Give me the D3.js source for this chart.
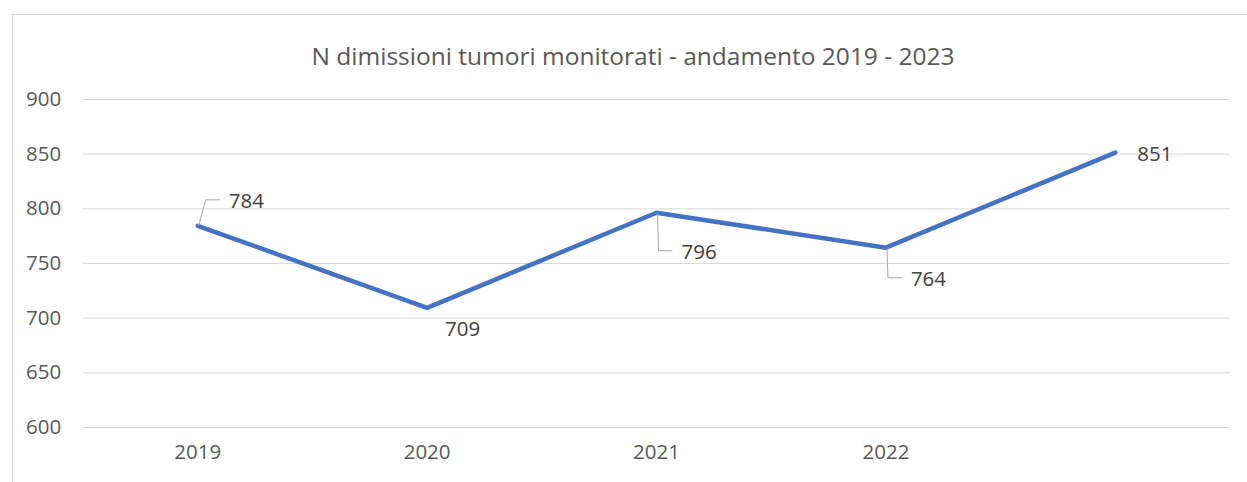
<!DOCTYPE html>
<html>
<head>
<meta charset="utf-8">
<script src="https://cdn.jsdelivr.net/npm/d3@7"></script>
<style>
    body { margin: 0; background: #ffffff; }
    svg { display: block; }
</style>
</head>
<body>
<script>
//
// DATA
const years = [ '2019', '2020', '2021', '2022', '2023' ];
const xTickLabels = [ '2019', '2020', '2021', '2022', '' ];
const values = [ 784, 709, 796, 764, 851 ];
const yTicks = [ 600, 650, 700, 750, 800, 850, 900 ];
const chartTitle = 'N dimissioni tumori monitorati - andamento 2019 - 2023';

//
// SIZE
const WIDTH = 1247;
const HEIGHT = 482;
const PLOT_LEFT = 83;
const PLOT_RIGHT = 1230;
const PLOT_TOP = 99;
const PLOT_BOTTOM = 427;
const TEXT_COLOR = '#595959';
const GRID_COLOR = '#d9d9d9';
const LINE_COLOR = '#4472c4';
const FONT = '"Open Sans", "Noto Sans", sans-serif';

// label placement, relative to the point: text offset and whether a leader line is drawn
const labelLayout = [
    { dx: 31, dy: -26, leader: true },
    { dx: 18, dy: 20, leader: false },
    { dx: 25, dy: 38, leader: true },
    { dx: 25, dy: 30, leader: true },
    { dx: 22, dy: 0, leader: false }
];

let svg = d3.select( 'body' )
    .append( 'svg' )
    .attr( 'width', WIDTH )
    .attr( 'height', HEIGHT );

// chart frame
svg.append( 'rect' )
    .attr( 'x', 12.5 )
    .attr( 'y', 14.5 )
    .attr( 'width', 1260 )
    .attr( 'height', 500 )
    .attr( 'fill', 'none' )
    .attr( 'stroke', GRID_COLOR );

let x = d3.scaleBand()
    .domain( years )
    .range( [ PLOT_LEFT, PLOT_RIGHT ] );

let y = d3.scaleLinear()
    .domain( [ 600, 900 ] )
    .range( [ PLOT_BOTTOM, PLOT_TOP ] );

function cx( i ) {
    return x( years[ i ] ) + x.bandwidth() / 2;
}

// title
svg.append( 'text' )
    .attr( 'x', 633 )
    .attr( 'y', 55 )
    .attr( 'text-anchor', 'middle' )
    .attr( 'dominant-baseline', 'central' )
    .attr( 'font-family', FONT )
    .attr( 'font-size', 24.5 )
    .attr( 'fill', TEXT_COLOR )
    .text( chartTitle );

// y axis with gridlines
let yAxis = svg.append( 'g' )
    .attr( 'transform', 'translate(' + PLOT_LEFT + ',0)' )
    .call( d3.axisLeft( y )
        .tickValues( yTicks )
        .tickSize( -( PLOT_RIGHT - PLOT_LEFT ) ) );
yAxis.select( '.domain' ).remove();
yAxis.selectAll( 'line' )
    .attr( 'stroke', GRID_COLOR );
yAxis.selectAll( 'text' )
    .attr( 'font-family', FONT )
    .attr( 'font-size', 20.5 )
    .attr( 'fill', TEXT_COLOR )
    .attr( 'text-anchor', 'start' )
    .attr( 'x', -PLOT_LEFT + 26 );

// x axis labels only
let xAxis = svg.append( 'g' )
    .attr( 'transform', 'translate(0,' + PLOT_BOTTOM + ')' )
    .call( d3.axisBottom( x )
        .tickSize( 0 )
        .tickPadding( 17 )
        .tickFormat( function ( d, i ) { return xTickLabels[ i ]; } ) );
xAxis.select( '.domain' ).remove();
xAxis.selectAll( 'text' )
    .attr( 'font-family', FONT )
    .attr( 'font-size', 20.5 )
    .attr( 'fill', TEXT_COLOR );

// line
let line = d3.line()
    .x( function ( d, i ) { return cx( i ); } )
    .y( function ( d ) { return y( d ); } );

svg.append( 'path' )
    .datum( values )
    .attr( 'd', line )
    .attr( 'fill', 'none' )
    .attr( 'stroke', LINE_COLOR )
    .attr( 'stroke-width', 4.5 )
    .attr( 'stroke-linejoin', 'round' )
    .attr( 'stroke-linecap', 'round' );

// leader lines
let leaderData = values
    .map( function ( v, i ) { return { value: v, index: i }; } )
    .filter( function ( d ) { return labelLayout[ d.index ].leader; } );

svg.selectAll( 'path.leader' )
    .data( leaderData )
    .enter()
    .append( 'path' )
    .classed( 'leader', true )
    .attr( 'd', function ( d ) {
        let px = cx( d.index ), py = y( d.value ), l = labelLayout[ d.index ];
        let ty = py + l.dy;
        return 'M' + ( px + 1 ) + ',' + py + 'L' + ( px + l.dx - 23 ) + ',' + ty + 'L' + ( px + l.dx - 9 ) + ',' + ty;
    })
    .attr( 'fill', 'none' )
    .attr( 'stroke', '#a6a6a6' )
    .attr( 'stroke-width', 1 );

// data labels
svg.selectAll( 'text.value' )
    .data( values )
    .enter()
    .append( 'text' )
    .classed( 'value', true )
    .attr( 'x', function ( d, i ) { return cx( i ) + labelLayout[ i ].dx; } )
    .attr( 'y', function ( d, i ) { return y( d ) + labelLayout[ i ].dy; } )
    .attr( 'dominant-baseline', 'central' )
    .attr( 'font-family', FONT )
    .attr( 'font-size', 20.5 )
    .attr( 'fill', '#404040' )
    .text( function ( d ) { return d; } );
</script>
</body>
</html>
